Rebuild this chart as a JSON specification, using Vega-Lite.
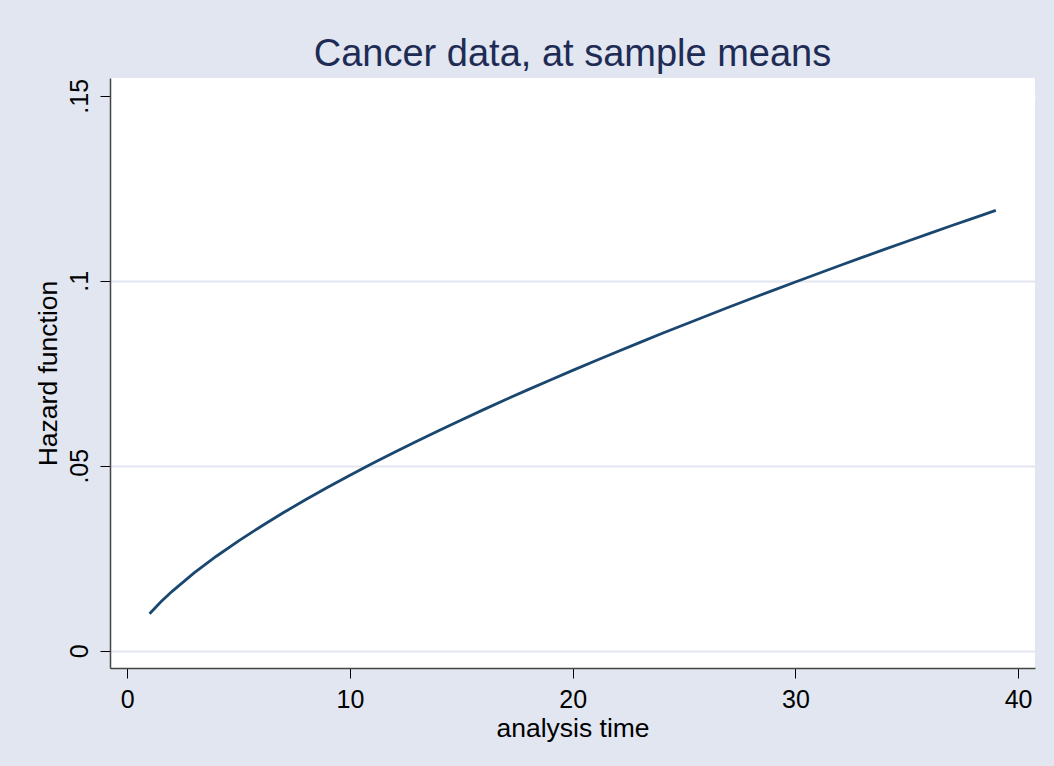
{
  "$schema": "https://vega.github.io/schema/vega-lite/v6.json",
  "width": 925,
  "height": 590,
  "autosize": {"type": "none"},
  "padding": {"left": 110, "top": 78, "right": 19, "bottom": 98},
  "background": "#E1E6F0",
  "title": {
    "text": "Cancer data, at sample means",
    "font": "Liberation Sans",
    "fontSize": 38,
    "fontWeight": "normal",
    "color": "#1E2C55",
    "anchor": "middle",
    "offset": 4
  },
  "config": {
    "view": {"fill": "white", "stroke": null},
    "axis": {"labelFont": "Liberation Sans", "titleFont": "Liberation Sans", "labelColor": "#000000", "titleColor": "#000000", "titleFontWeight": "normal"}
  },
  "data": {
    "values": [
      {"t": 1, "h": 0.01},
      {"t": 1.5, "h": 0.01315},
      {"t": 2, "h": 0.01598},
      {"t": 3, "h": 0.02101},
      {"t": 4, "h": 0.02553},
      {"t": 5, "h": 0.02968},
      {"t": 6, "h": 0.03358},
      {"t": 7, "h": 0.03727},
      {"t": 8, "h": 0.04079},
      {"t": 9, "h": 0.04416},
      {"t": 10, "h": 0.04743},
      {"t": 11, "h": 0.05058},
      {"t": 12, "h": 0.05365},
      {"t": 13, "h": 0.05663},
      {"t": 14, "h": 0.05954},
      {"t": 15, "h": 0.06238},
      {"t": 16, "h": 0.06516},
      {"t": 17, "h": 0.06789},
      {"t": 18, "h": 0.07057},
      {"t": 19, "h": 0.07319},
      {"t": 20, "h": 0.07577},
      {"t": 21, "h": 0.07832},
      {"t": 22, "h": 0.08081},
      {"t": 23, "h": 0.08328},
      {"t": 24, "h": 0.08572},
      {"t": 25, "h": 0.08811},
      {"t": 26, "h": 0.09048},
      {"t": 27, "h": 0.09282},
      {"t": 28, "h": 0.09513},
      {"t": 29, "h": 0.09741},
      {"t": 30, "h": 0.09967},
      {"t": 31, "h": 0.1019},
      {"t": 32, "h": 0.10411},
      {"t": 33, "h": 0.1063},
      {"t": 34, "h": 0.10847},
      {"t": 35, "h": 0.11062},
      {"t": 36, "h": 0.11274},
      {"t": 37, "h": 0.11485},
      {"t": 38, "h": 0.11694},
      {"t": 39, "h": 0.11902}
    ]
  },
  "mark": {"type": "line", "color": "#1A476F", "strokeWidth": 2.8, "clip": true},
  "encoding": {
    "x": {
      "field": "t",
      "type": "quantitative",
      "scale": {"domain": [-0.777, 40.76], "nice": false, "zero": false},
      "axis": {
        "title": "analysis time",
        "values": [0, 10, 20, 30, 40],
        "grid": false,
        "domainColor": "#444444",
        "domainWidth": 1.5,
        "tickColor": "#000000",
        "tickSize": 10,
        "tickWidth": 1,
        "labelFontSize": 25,
        "labelPadding": 9,
        "titleFontSize": 26.5,
        "titlePadding": 3
      }
    },
    "y": {
      "field": "h",
      "type": "quantitative",
      "scale": {"domain": [-0.00468, 0.1548], "nice": false, "zero": false},
      "axis": {
        "title": "Hazard function",
        "values": [0, 0.05, 0.1, 0.15],
        "labelExpr": "datum.value == 0 ? '0' : slice(format(datum.value, '.2~f'), 1)",
        "grid": true,
        "gridColor": {"condition": {"test": "datum.value > 0.14", "value": "white"}, "value": "#E1E6F0"},
        "gridWidth": 2,
        "domainColor": "#444444",
        "domainWidth": 1.5,
        "tickColor": "#000000",
        "tickSize": 10,
        "tickWidth": 1,
        "labelAngle": -90,
        "labelAlign": "center",
        "labelBaseline": "bottom",
        "labelFontSize": 25,
        "labelPadding": 8,
        "titleFontSize": 26.5,
        "titlePadding": 5
      }
    }
  }
}
